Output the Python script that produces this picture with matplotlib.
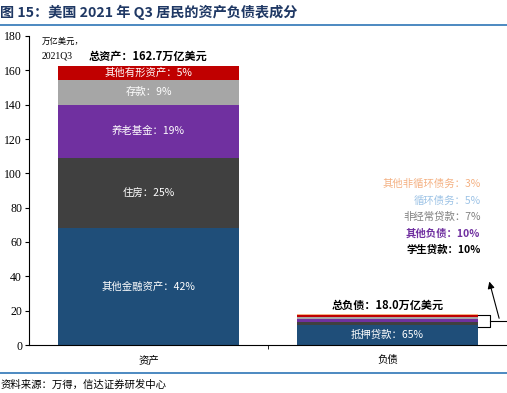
import matplotlib
matplotlib.use("Agg")
import matplotlib.pyplot as plt
import numpy as np

plt.rcParams['font.family'] = ['Noto Sans CJK SC', 'DejaVu Sans']

categories = ["资产", "负债"]
asset_total = 162.7
liab_total = 18.0

asset_names = ["其他金融资产", "住房", "养老基金", "存款", "其他有形资产"]
asset_pct = [42, 25, 19, 9, 5]
asset_colors = ["#1F4E79", "#404040", "#7030A0", "#A6A6A6", "#C00000"]

liab_names = ["抵押贷款", "学生贷款", "其他负债", "非经常贷款", "循环债务", "其他非循环债务"]
liab_pct = [65, 10, 10, 7, 5, 3]
liab_colors = ["#1F4E79", "#404040", "#7030A0", "#A6A6A6", "#C00000", "#F4B183"]
liab_label_colors = ["white", "#000000", "#7030A0", "#808080", "#9DC3E6", "#F4B183"]

yticks = [0, 20, 40, 60, 80, 100, 120, 140, 160, 180]

asset_vals = np.array(asset_pct) / sum(asset_pct) * asset_total
liab_vals = np.array(liab_pct) / sum(liab_pct) * liab_total

fig = plt.figure(figsize=(5.07, 3.93), dpi=100)
ax = fig.add_axes([29/507, 48/393, 478/507, 309/393])

w = 0.76
bottom = 0.0
for name, pct, v, c in zip(asset_names, asset_pct, asset_vals, asset_colors):
    ax.bar(0, v, bottom=bottom, width=w, color=c, edgecolor='none')
    ax.text(0, bottom + v/2, f"{name}：{pct}%", color='white', ha='center', va='center', fontsize=7.5)
    bottom += v

bottom = 0.0
for i, (name, pct, v, c) in enumerate(zip(liab_names, liab_pct, liab_vals, liab_colors)):
    ax.bar(1, v, bottom=bottom, width=w, color=c, edgecolor='none')
    if i == 0:
        ax.text(1, bottom + v/2, f"{name}：{pct}%", color='white', ha='center', va='center', fontsize=7.5)
    bottom += v

# labels for small liability segments
label_y = [None, 55.3, 64.6, 74.5, 83.9, 93.8]
for i in range(1, len(liab_names)):
    bold = i <= 2
    ax.text(1.389, label_y[i], f"{liab_names[i]}：{liab_pct[i]}%", color=liab_label_colors[i],
            ha='right', va='center', fontsize=7.5, fontweight='bold' if bold else 'normal')

# bracket and arrow
bx = 1.427
y0 = liab_vals[0] - 1.2
y1 = liab_total - 0.5
ax.plot([1 + w/2, bx, bx, 1 + w/2], [y1, y1, y0, y0], color='black', lw=0.8, clip_on=False)
ym = (y0 + y1) / 2
ax.plot([bx, 1.5], [ym, ym], color='black', lw=0.8, clip_on=False)
ax.annotate("", xy=(1.423, 38.5), xytext=(1.47, ym),
            arrowprops=dict(arrowstyle='-|>', color='black', lw=0.8, mutation_scale=10), annotation_clip=False)

ax.text(0, asset_total + 5.5, f"总资产：{asset_total}万亿美元", ha='center', va='center', fontsize=8, fontweight='bold')
ax.text(1, liab_total + 5.3, f"总负债：{liab_total:.1f}万亿美元", ha='center', va='center', fontsize=8, fontweight='bold')
ax.text(-0.446, 177, "万亿美元，", ha='left', va='center', fontsize=6)
ax.text(-0.446, 168.3, "2021Q3", ha='left', va='center', fontsize=7, family='Liberation Serif')

ax.set_xlim(-0.5, 1.5)
ax.set_ylim(0, 180)
ax.set_yticks(yticks)
ax.set_yticklabels([str(t) for t in yticks], family='Liberation Serif', fontsize=8.5)
ax.set_xticks([0.5])
ax.set_xticklabels([""])
ax.tick_params(axis='x', length=3, width=0.6)
ax.tick_params(axis='y', length=3, width=0.8, pad=2)
for i, cat in enumerate(categories):
    ax.text(i, -6, cat, ha='center', va='top', fontsize=7.5)
ax.spines['top'].set_visible(False)
ax.spines['right'].set_visible(False)
ax.spines['left'].set_linewidth(0.8)
ax.spines['bottom'].set_linewidth(0.8)

# title, rules, source
fig.text(0.0, 1 - 12/393, "图 15：美国 2021 年 Q3 居民的资产负债表成分", ha='left', va='center',
         fontsize=10.2, fontweight='bold', color='#1F3864')
fig.add_artist(plt.Line2D([0, 1], [1 - 25/393, 1 - 25/393], color='#2E75B6', lw=1.2))
fig.add_artist(plt.Line2D([0, 1], [1 - 373/393, 1 - 373/393], color='#2E75B6', lw=1.2))
fig.text(1/507, 1 - 385/393, "资料来源：万得，信达证券研发中心", ha='left', va='center',
         fontsize=7.5, style='italic')

fig.savefig("out.png", dpi=100)
